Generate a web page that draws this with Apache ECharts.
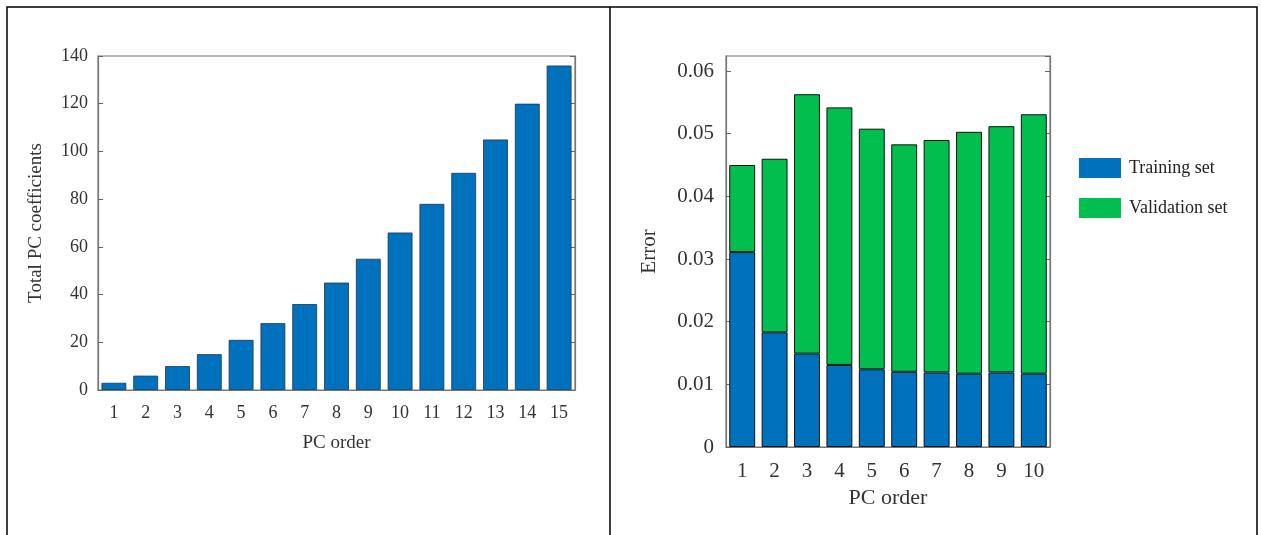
<!DOCTYPE html>
<html><head><meta charset="utf-8">
<script src="https://cdn.jsdelivr.net/npm/echarts@6/dist/echarts.min.js"></script>
<style>html,body{margin:0;background:#fff}#c{width:1261px;height:535px}</style>
</head><body><div id="c"></div>
<script>
var leftCats = ['1','2','3','4','5','6','7','8','9','10','11','12','13','14','15'];
var leftValues = [3, 6, 10, 15, 21, 28, 36, 45, 55, 66, 78, 91, 105, 120, 136];
var rightCats = ['1','2','3','4','5','6','7','8','9','10'];
var trainingErr = [0.0311, 0.0183, 0.0149, 0.0131, 0.0124, 0.0120, 0.0119, 0.0117, 0.0119, 0.0117];
var validationErr = [0.0139, 0.0277, 0.0414, 0.0411, 0.0384, 0.0363, 0.0371, 0.0386, 0.0393, 0.0414];

var font = 'Liberation Serif';
var blue = '#0072bd', green = '#00bf4f';
function axisLine() { return {show: true, lineStyle: {color: '#777', width: 1.2}}; }
var tickIn = {show: true, inside: true, length: 5, lineStyle: {color: '#666'}};
var catTick = {show: true, inside: true, length: 5, alignWithLabel: true, lineStyle: {color: '#666'}};
var lab = {color: '#333', fontFamily: font, fontSize: 18};
var box = {show: true, borderColor: '#777', borderWidth: 1.2, backgroundColor: 'transparent'};

var chart = echarts.init(document.getElementById('c'));
chart.setOption({
  animation: false,
  textStyle: {fontFamily: font},
  grid: [
    Object.assign({left: 98, top: 56, width: 477, height: 334}, box),
    Object.assign({left: 726, top: 56, width: 324, height: 391}, box)
  ],
  xAxis: [
    {gridIndex: 0, type: 'category', data: leftCats, axisLine: axisLine(), axisTick: catTick,
     axisLabel: Object.assign({margin: 14}, lab), name: 'PC order', nameLocation: 'middle', nameGap: 44,
     nameTextStyle: {fontFamily: font, fontSize: 19, color: '#333'}},
    {gridIndex: 1, type: 'category', data: rightCats, axisLine: axisLine(), axisTick: catTick,
     axisLabel: Object.assign({margin: 14}, lab, {fontSize: 21}), name: 'PC order', nameLocation: 'middle', nameGap: 40,
     nameTextStyle: {fontFamily: font, fontSize: 22, color: '#333'}}
  ],
  yAxis: [
    {gridIndex: 0, type: 'value', min: 0, max: 140, interval: 20, axisLine: axisLine(), axisTick: tickIn,
     splitLine: {show: false}, axisLabel: Object.assign({margin: 10}, lab),
     name: 'Total PC coefficients', nameLocation: 'middle', nameGap: 52,
     nameTextStyle: {fontFamily: font, fontSize: 19, color: '#333'}},
    {gridIndex: 0, type: 'value', position: 'right', min: 0, max: 140, interval: 20, axisLine: axisLine(), axisTick: tickIn,
     splitLine: {show: false}, axisLabel: {show: false}},
    {gridIndex: 1, type: 'value', min: 0, max: 0.0624, interval: 0.01, axisLine: axisLine(), axisTick: tickIn,
     splitLine: {show: false}, axisLabel: Object.assign({margin: 12, formatter: function (v) { return v === 0 ? '0' : v.toFixed(2); }}, lab, {fontSize: 21}),
     name: 'Error', nameLocation: 'middle', nameGap: 66,
     nameTextStyle: {fontFamily: font, fontSize: 21, color: '#333'}},
    {gridIndex: 1, type: 'value', position: 'right', min: 0, max: 0.0624, interval: 0.01, axisLine: axisLine(), axisTick: tickIn,
     splitLine: {show: false}, axisLabel: {show: false}}
  ],
  legend: {
    orient: 'vertical', left: 1074, top: 153, itemGap: 20, itemWidth: 42, itemHeight: 20,
    icon: 'rect', textStyle: {fontFamily: font, fontSize: 18, color: '#222', padding: [0, 0, 0, 3]},
    itemStyle: {borderWidth: 0},
    data: ['Training set', 'Validation set']
  },
  series: [
    {type: 'bar', xAxisIndex: 0, yAxisIndex: 0, data: leftValues, barWidth: '78%',
     itemStyle: {color: blue, borderColor: '#1a3550', borderWidth: 0.8}},
    {name: 'Training set', type: 'bar', stack: 'e', xAxisIndex: 1, yAxisIndex: 2, data: trainingErr, barWidth: '80%',
     itemStyle: {color: blue, borderColor: '#111', borderWidth: 1}},
    {name: 'Validation set', type: 'bar', stack: 'e', xAxisIndex: 1, yAxisIndex: 2, data: validationErr, barWidth: '80%',
     itemStyle: {color: green, borderColor: '#111', borderWidth: 1}}
  ],
  graphic: [
    {type: 'rect', shape: {x: 7, y: 7, width: 1250, height: 540}, style: {fill: 'none', stroke: '#000', lineWidth: 1.5}},
    {type: 'line', shape: {x1: 610, y1: 7, x2: 610, y2: 535}, style: {stroke: '#000', lineWidth: 1.5}}
  ]
});
</script></body></html>
